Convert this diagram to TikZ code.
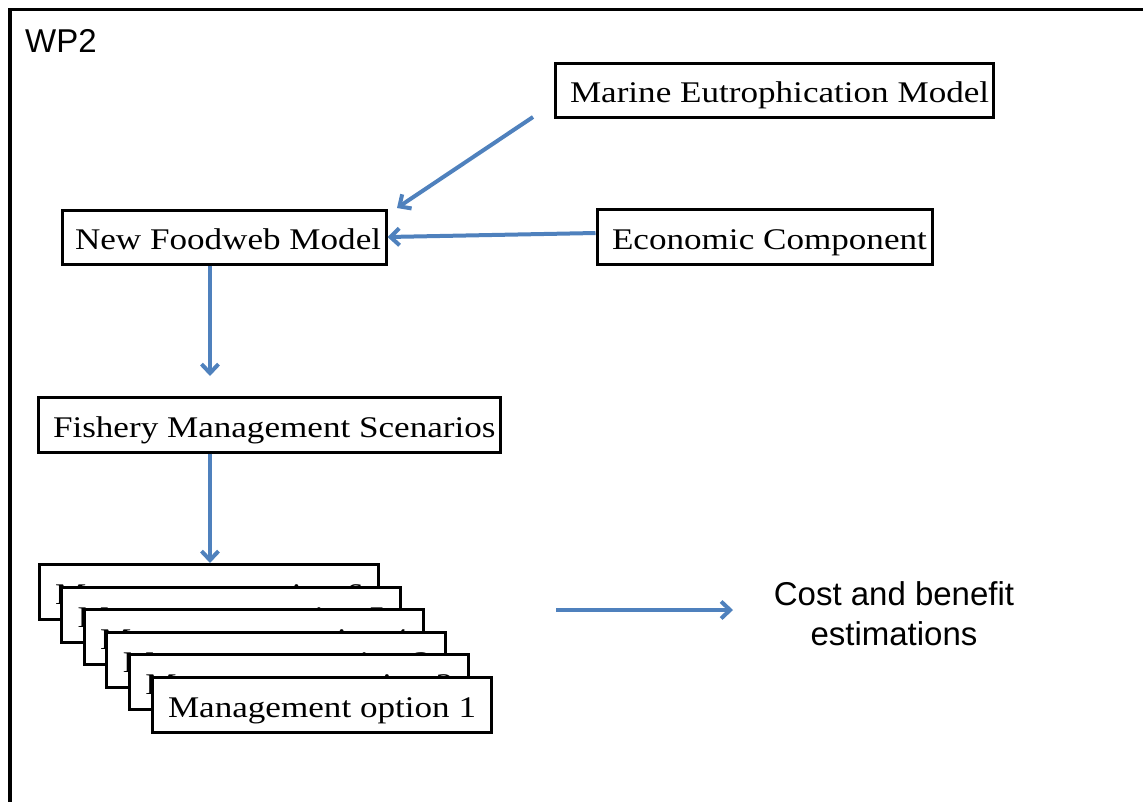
\documentclass[tikz,border=0pt]{standalone}
\usepackage{fontspec}
\setmainfont{Liberation Serif}[FakeStretch=1.17]
\newfontfamily\labelsans{Liberation Sans}
\usetikzlibrary{arrows.meta,calc}
\definecolor{flowblue}{RGB}{79,129,189}
\begin{document}
\begin{tikzpicture}[x=1pt,y=-1pt,
  box/.style={draw=black, line width=3pt, fill=white, rectangle,
    inner xsep=0pt, inner ysep=0pt, text depth=15pt,
    font=\fontsize{30}{34}\selectfont},
  flow/.style={draw=flowblue, line width=4pt,
    -{Straight Barb[length=9pt,width=17pt]}},
  sanslabel/.style={inner sep=0pt, font=\labelsans\fontsize{33}{40}\selectfont},
]
\useasboundingbox (0,0) rectangle (1143,801);

% work package frame (open at the right and bottom)
\draw[line width=3.5pt] (10,805) -- (10,9.5) -- (1147,9.5);
\node[sanslabel, anchor=base west] (wp) at (25,52) {WP2};

% model boxes
\node[box, minimum width=438pt, minimum height=54pt, text height=39pt] (me) at (774,90)
  {\makebox[408pt][l]{Marine Eutrophication Model}};
\node[box, minimum width=335pt, minimum height=55pt, text height=40pt] (ec) at (764.5,237)
  {\makebox[305pt][l]{Economic Component}};
\node[box, minimum width=324pt, minimum height=54pt, text height=39pt] (nf) at (224,237)
  {\makebox[298pt][l]{New Foodweb Model}};
\node[box, minimum width=462pt, minimum height=55pt, text height=40pt] (fm) at (269,424.5)
  {\makebox[432pt][l]{Fishery Management Scenarios}};

% stack of management options, back to front
\tikzset{option/.style={box, minimum width=339pt, minimum height=55pt, text height=40pt}}
\node[option] (m6) at (208.5,592)   {\makebox[307pt][l]{Management option 6}};
\node[option] (m5) at (231.1,614.6) {\makebox[307pt][l]{Management option 5}};
\node[option] (m4) at (253.7,637.2) {\makebox[307pt][l]{Management option 4}};
\node[option] (m3) at (276.3,659.8) {\makebox[307pt][l]{Management option 3}};
\node[option] (m2) at (298.9,682.4) {\makebox[307pt][l]{Management option 2}};
\node[option] (m1) at (321.5,705)   {\makebox[307pt][l]{Management option 1}};

\node[sanslabel, align=center, anchor=north] (cb) at (894,581)
  {Cost and benefit\\estimations};

% connectors
\coordinate (a1s) at (533,117);
\coordinate (a1e) at (397,208);
\coordinate (a3e) at (210,376);
\coordinate (a5s) at (556,610);
\coordinate (a5e) at (733,610);

\draw[flow] (a1s) -- (a1e);
\draw[flow] ([yshift=4pt]ec.west) -- (nf.east);
\draw[flow] (210,0 |- nf.south) -- (a3e);
\draw[flow] (210,0 |- fm.south) -- (210,0 |- m6.north);
\draw[flow] (a5s) -- (a5e);
\end{tikzpicture}
\end{document}
